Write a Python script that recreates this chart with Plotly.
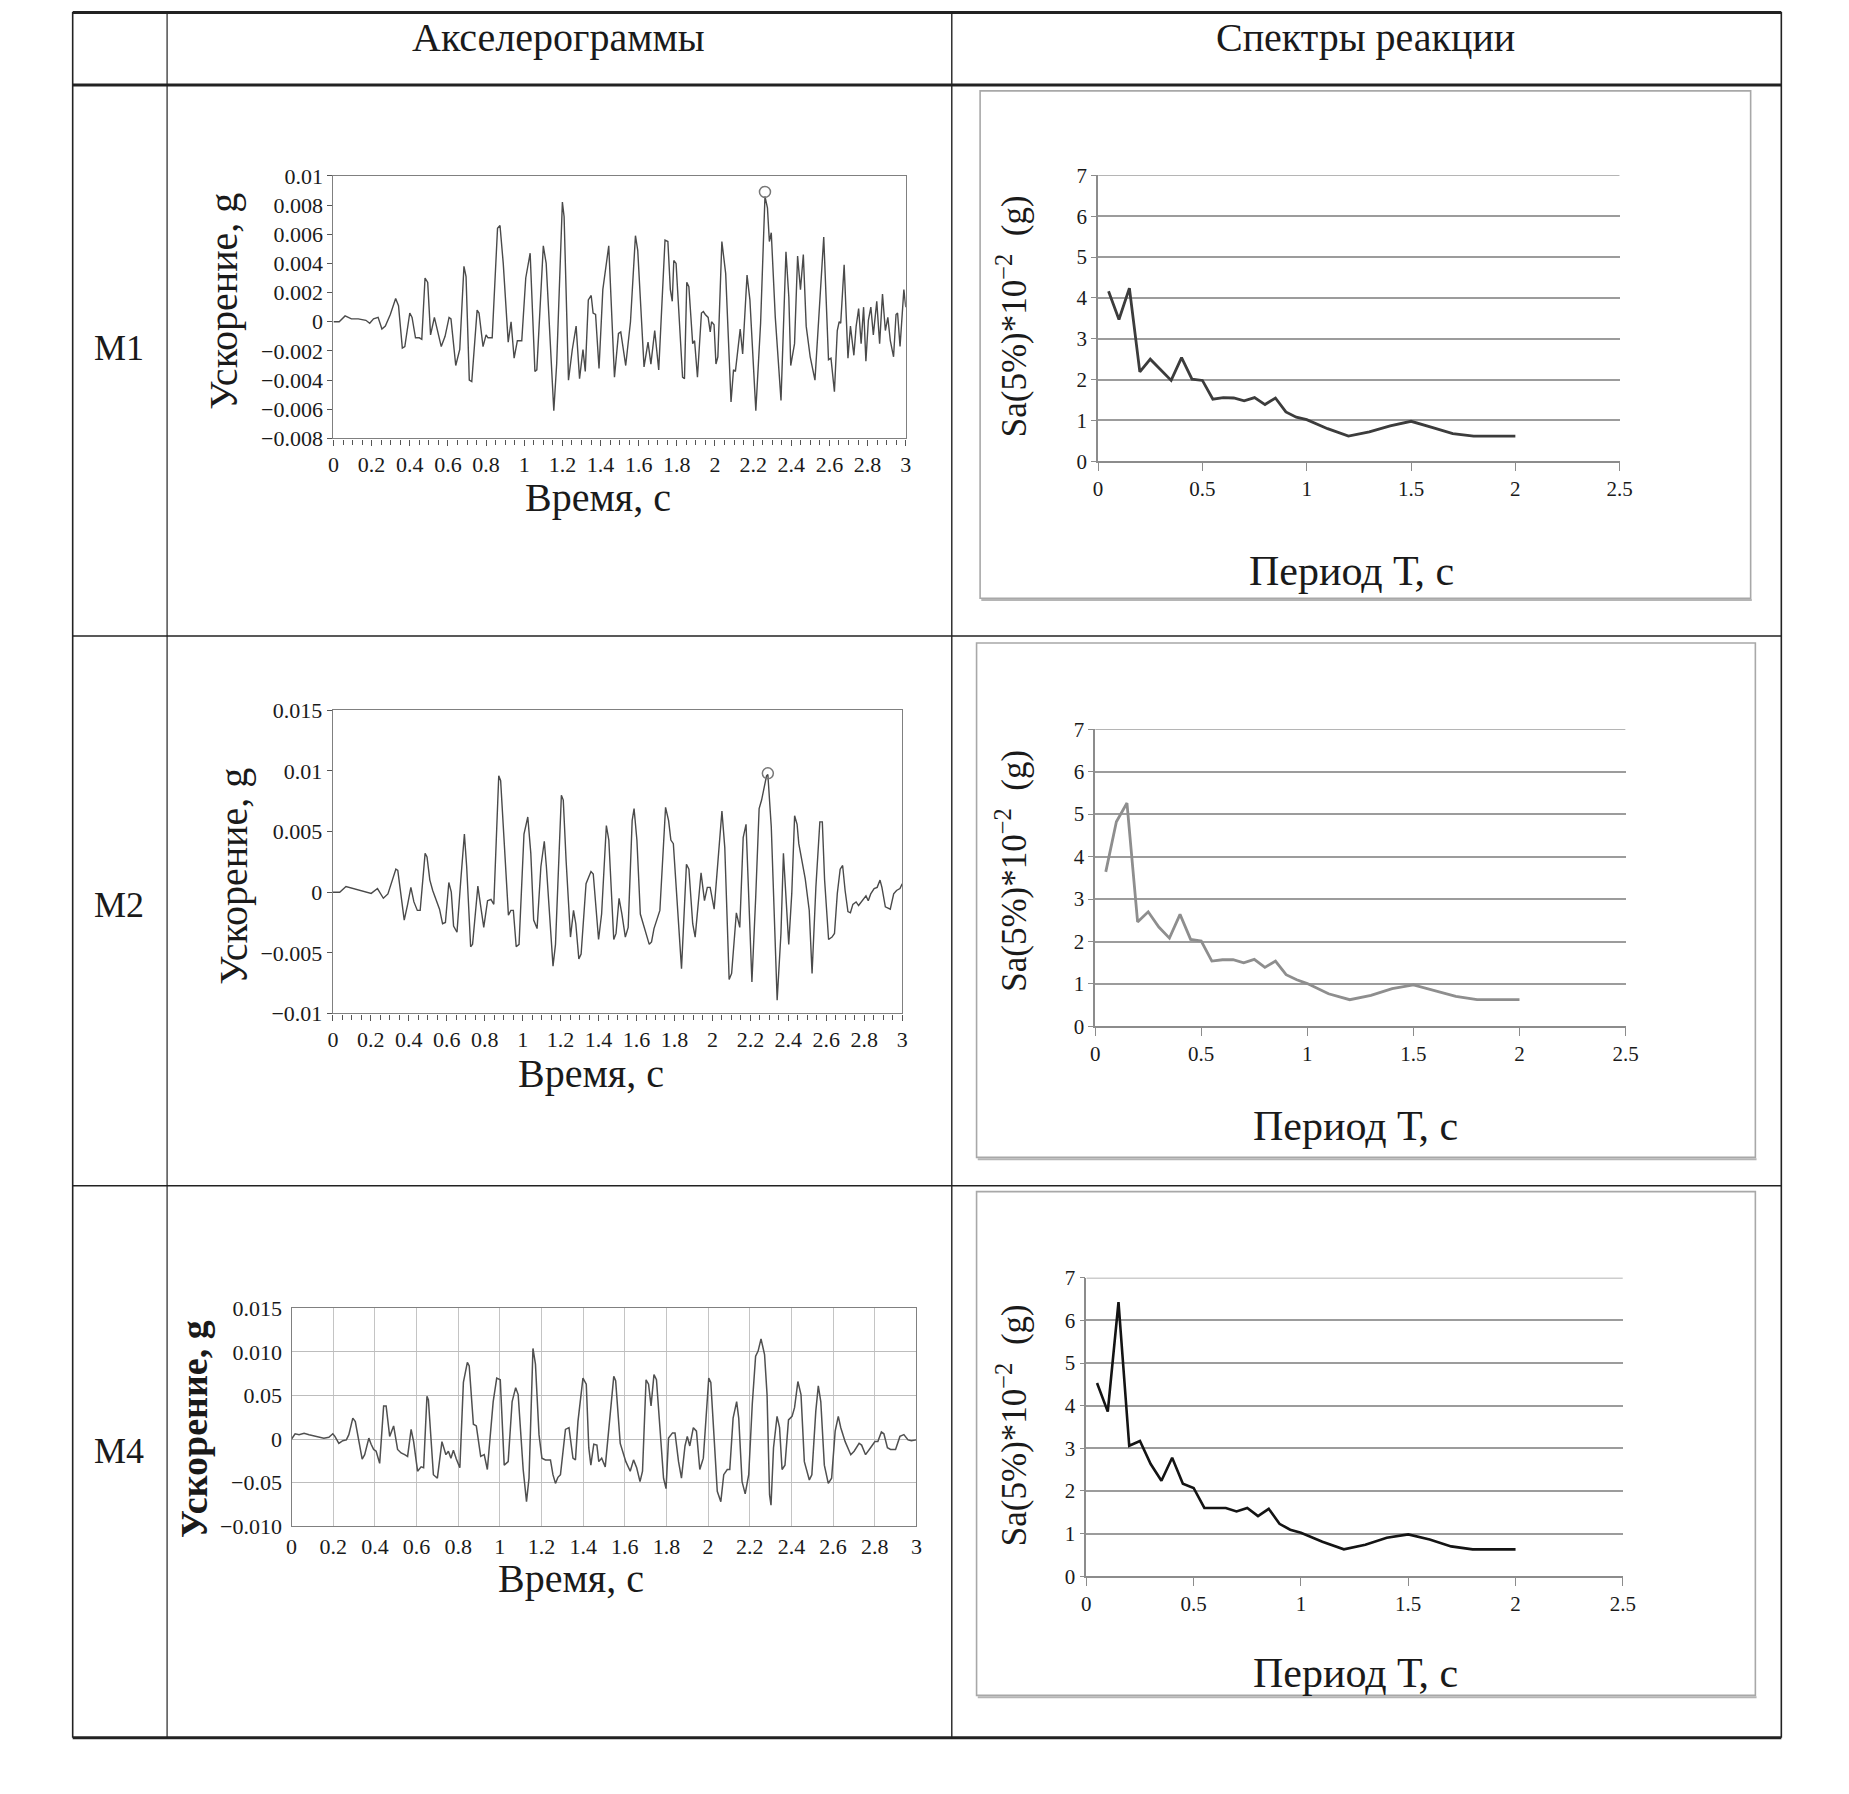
import plotly.graph_objects as go

# ---------------- DATA ----------------
row_labels = ["M1", "M2", "M4"]
header_labels = ["Акселерограммы", "Спектры реакции"]

m1_t = [0, 0.03, 0.061, 0.094, 0.13, 0.17, 0.19, 0.21, 0.234, 0.254,
        0.272, 0.298, 0.326, 0.341, 0.361, 0.374, 0.40, 0.412, 0.43, 0.45,
        0.463, 0.48, 0.494, 0.509, 0.529, 0.547, 0.565, 0.585, 0.606, 0.616,
        0.641, 0.662, 0.684, 0.695, 0.712, 0.725, 0.753, 0.763, 0.784, 0.80,
        0.81, 0.832, 0.86, 0.873, 0.89, 0.916, 0.931, 0.947, 0.964, 0.987,
        1.008, 1.031, 1.056, 1.066, 1.10, 1.115, 1.155, 1.17, 1.20, 1.209,
        1.232, 1.252, 1.272, 1.29, 1.308, 1.32, 1.336, 1.351, 1.361, 1.374,
        1.392, 1.412, 1.443, 1.473, 1.494, 1.506, 1.532, 1.557, 1.583, 1.595,
        1.628, 1.649, 1.664, 1.684, 1.705, 1.738, 1.753, 1.766, 1.776, 1.784,
        1.796, 1.83, 1.84, 1.852, 1.863, 1.883, 1.893, 1.908, 1.929, 1.939,
        1.949, 1.964, 1.975, 1.982, 1.995, 2.005, 2.015, 2.036, 2.056, 2.084,
        2.097, 2.107, 2.132, 2.145, 2.168, 2.183, 2.214, 2.239, 2.262, 2.275,
        2.285, 2.295, 2.316, 2.346, 2.372, 2.387, 2.397, 2.417, 2.433, 2.448,
        2.463, 2.478, 2.499, 2.524, 2.545, 2.57, 2.595, 2.608, 2.626, 2.641,
        2.651, 2.659, 2.677, 2.697, 2.71, 2.728, 2.74, 2.753, 2.766, 2.779,
        2.791, 2.804, 2.817, 2.83, 2.848, 2.863, 2.878, 2.893, 2.906, 2.919,
        2.936, 2.949, 2.957, 2.97, 2.99, 3.0]
m1_a = [0, 0, 0.0004, 0.0002, 0.0002, 0.0001, -0.0001, 0.0002, 0.0003, -0.0005,
        -0.0003, 0.0005, 0.0016, 0.0011, -0.0018, -0.0017, 0.0006, 0.0003, -0.0011, -0.0011,
        -0.0012, 0.003, 0.0027, -0.0009, 0.0003, -0.0006, -0.0017, -0.001, 0.0003, 0.0002,
        -0.003, -0.0019, 0.0038, 0.0031, -0.004, -0.0041, 0.0008, 0.0006, -0.0017, -0.0009,
        -0.0011, -0.0011, 0.0064, 0.0066, 0.004, -0.0014, 0.0, -0.0025, -0.0013, -0.0013,
        0.003, 0.0047, -0.0034, -0.0033, 0.0052, 0.004, -0.0061, -0.0029, 0.0082, 0.0072,
        -0.004, -0.0019, -0.0003, -0.0039, -0.0019, -0.0034, 0.0015, 0.0018, 0.0006, 0.0005,
        -0.0032, 0.0022, 0.0052, -0.0038, -0.0008, -0.0007, -0.003, 0.0, 0.0059, 0.0049,
        -0.0031, -0.0014, -0.0029, -0.0006, -0.0033, 0.0056, 0.0055, 0.0022, 0.0014, 0.0042,
        0.004, -0.0038, -0.0039, 0.0027, 0.0024, -0.0015, -0.0013, -0.0038, 0.0006, 0.0007,
        0.0005, 0.0003, -0.0007, 0.0, -0.0002, -0.0029, -0.0024, 0.0055, 0.0033, -0.0055,
        -0.0033, -0.0034, -0.0005, -0.0022, 0.0032, 0.0015, -0.0061, -0.0001, 0.0086, 0.0078,
        0.0055, 0.0061, 0.0003, -0.0054, 0.0048, 0.0017, -0.003, -0.0015, 0.0045, 0.0022,
        0.0046, -0.0003, -0.0024, -0.004, 0.0008, 0.0058, -0.0026, -0.0025, -0.0048, -0.0006,
        0.0, -0.0001, 0.0039, -0.0025, -0.0003, -0.0023, -0.0003, 0.0009, -0.0015, 0.001,
        -0.0027, 0.0001, 0.001, -0.0009, 0.0014, -0.0015, 0.0019, -0.0006, 0.0003, -0.0013,
        -0.0024, 0.0005, 0.0006, -0.0017, 0.0022, 0.001]

m2_t = [0, 0.036, 0.069, 0.112, 0.164, 0.202, 0.235, 0.266, 0.29, 0.332,
        0.342, 0.376, 0.394, 0.411, 0.427, 0.445, 0.46, 0.486, 0.496, 0.511,
        0.526, 0.547, 0.562, 0.578, 0.593, 0.611, 0.624, 0.636, 0.654, 0.675,
        0.693, 0.705, 0.726, 0.736, 0.764, 0.782, 0.795, 0.815, 0.833, 0.848,
        0.874, 0.884, 0.905, 0.925, 0.938, 0.951, 0.966, 0.981, 1.007, 1.027,
        1.043, 1.058, 1.076, 1.096, 1.114, 1.125, 1.16, 1.173, 1.204, 1.214,
        1.229, 1.252, 1.268, 1.28, 1.296, 1.308, 1.334, 1.36, 1.372, 1.40,
        1.416, 1.441, 1.454, 1.48, 1.492, 1.508, 1.523, 1.541, 1.556, 1.577,
        1.587, 1.602, 1.62, 1.641, 1.667, 1.679, 1.692, 1.723, 1.753, 1.769,
        1.781, 1.794, 1.82, 1.837, 1.863, 1.876, 1.896, 1.909, 1.94, 1.958,
        1.973, 1.988, 2.009, 2.029, 2.05, 2.065, 2.088, 2.101, 2.126, 2.144,
        2.162, 2.177, 2.208, 2.228, 2.246, 2.259, 2.285, 2.292, 2.31, 2.341,
        2.361, 2.374, 2.392, 2.402, 2.418, 2.433, 2.446, 2.455, 2.489, 2.51,
        2.525, 2.545, 2.566, 2.579, 2.591, 2.612, 2.63, 2.643, 2.658, 2.673,
        2.686, 2.699, 2.714, 2.727, 2.74, 2.757, 2.77, 2.783, 2.796, 2.809,
        2.821, 2.834, 2.852, 2.868, 2.883, 2.893, 2.911, 2.937, 2.955, 2.97,
        2.988, 3.0]
m2_a = [0, 0, 0.00047, 0.00028, 0.0001, -0.0001, 0.0003, -0.0005, -0.00014, 0.0019,
        0.0018, -0.0023, -0.001, 0.0004, -0.0008, -0.0015, -0.0015, 0.0032, 0.0029, 0.001,
        0.00014, -0.0008, -0.0014, -0.0026, -0.0025, 0.0008, 0, -0.0028, -0.0033, 0.0012,
        0.0048, 0.0021, -0.0045, -0.0043, 0.0005, -0.0015, -0.0029, -0.0007, -0.0006, -0.001,
        0.0096, 0.0092, 0.0037, -0.0019, -0.0015, -0.0015, -0.0045, -0.0043, 0.0048, 0.0062,
        0.0032, -0.0023, -0.003, 0.0021, 0.0042, 0.0021, -0.0061, -0.0043, 0.008, 0.0076,
        0.0026, -0.0037, -0.0015, -0.0026, -0.0055, -0.0051, 0.0007, 0.0017, 0.0015, -0.0039,
        -0.0018, 0.0055, 0.0043, -0.0039, -0.0034, -0.0005, -0.0018, -0.0037, -0.0029, 0.0059,
        0.0069, 0.0043, -0.0018, -0.0029, -0.0043, -0.0041, -0.003, -0.0015, 0.007, 0.0059,
        0.0043, 0.004, -0.0018, -0.0063, 0.0023, 0.0019, -0.0026, -0.0037, 0.0016, -0.0007,
        0.0004, 0.0004, -0.0014, 0.0022, 0.0067, 0.0037, -0.0072, -0.0067, -0.0017, -0.0029,
        0.0045, 0.0056, -0.0074, -0.0004, 0.0069, 0.0076, 0.0096, 0.0097, 0.0054, -0.0089,
        -0.0034, 0.0032, -0.0015, -0.0043, -0.0001, 0.0063, 0.0056, 0.004, 0.0011, -0.0015,
        -0.0067, 0.0004, 0.0058, 0.0058, 0.001, -0.0039, -0.0037, -0.0034, -0.0001, 0.0019,
        0.0022, 0.00014, -0.0016, -0.0017, -0.001, -0.0008, -0.0011, -0.0008, -0.0006, -0.0003,
        -0.0007, -0.00014, 0.0003, 0.0004, 0.001, 0.0004, -0.0012, -0.0014, -0.00014, 0.00014,
        0.0003, 0.0007]

m4_t = [0, 0.017, 0.036, 0.06, 0.084, 0.12, 0.155, 0.179, 0.198, 0.208,
        0.227, 0.246, 0.263, 0.275, 0.294, 0.306, 0.323, 0.339, 0.351, 0.371,
        0.382, 0.394, 0.406, 0.423, 0.442, 0.454, 0.471, 0.49, 0.509, 0.526,
        0.543, 0.557, 0.574, 0.586, 0.605, 0.622, 0.634, 0.65, 0.657, 0.681,
        0.70, 0.722, 0.741, 0.753, 0.765, 0.777, 0.791, 0.808, 0.825, 0.844,
        0.853, 0.873, 0.887, 0.908, 0.925, 0.94, 0.968, 0.985, 1.002, 1.021,
        1.04, 1.059, 1.076, 1.088, 1.112, 1.128, 1.14, 1.159, 1.171, 1.188,
        1.202, 1.219, 1.243, 1.255, 1.267, 1.279, 1.291, 1.315, 1.332, 1.351,
        1.363, 1.375, 1.399, 1.415, 1.427, 1.437, 1.451, 1.466, 1.475, 1.489,
        1.506, 1.53, 1.547, 1.556, 1.578, 1.605, 1.626, 1.642, 1.657, 1.673,
        1.685, 1.702, 1.714, 1.726, 1.74, 1.752, 1.769, 1.786, 1.798, 1.81,
        1.829, 1.841, 1.858, 1.872, 1.889, 1.90, 1.912, 1.929, 1.944, 1.96,
        1.977, 2.003, 2.013, 2.032, 2.044, 2.061, 2.075, 2.092, 2.104, 2.12,
        2.137, 2.147, 2.163, 2.178, 2.195, 2.212, 2.228, 2.24, 2.254, 2.271,
        2.283, 2.295, 2.302, 2.314, 2.331, 2.343, 2.355, 2.369, 2.386, 2.403,
        2.415, 2.431, 2.446, 2.462, 2.486, 2.498, 2.517, 2.529, 2.541, 2.558,
        2.577, 2.593, 2.61, 2.625, 2.637, 2.658, 2.685, 2.701, 2.725, 2.737,
        2.756, 2.78, 2.801, 2.815, 2.832, 2.844, 2.861, 2.876, 2.9, 2.921,
        2.94, 2.96, 2.976, 3.0]
m4_a = [0, 0.0006, 0.0005, 0.00065, 0.0005, 0.0003, 0.0001, 0.0002, 0.0006, 0.0003,
        -0.0005, -0.0002, -0.0001, 0.0005, 0.0024, 0.002, -0.0003, -0.0023, -0.0018, 0.0001,
        -0.0006, -0.0012, -0.0014, -0.0028, 0.0038, 0.0038, 0.0003, 0.0015, -0.0012, -0.0016,
        -0.0018, -0.002, 0.0011, -0.0003, -0.0037, -0.0032, -0.0033, 0.0049, 0.0045, -0.0041,
        -0.0045, -0.0003, -0.0018, -0.0014, -0.0022, -0.0013, -0.0023, -0.0033, 0.0065, 0.0088,
        0.0084, 0.0017, 0.0015, -0.002, -0.0018, -0.0035, 0.0043, 0.007, 0.0068, -0.003,
        -0.0026, 0.0043, 0.0059, 0.0051, -0.0035, -0.0072, -0.0045, 0.0104, 0.0086, 0.0005,
        -0.0022, -0.0024, -0.0024, -0.0041, -0.0051, -0.0044, -0.0041, 0.0011, 0.0013, -0.0022,
        -0.0024, 0.002, 0.007, 0.0063, -0.001, -0.003, -0.0006, -0.0007, -0.0026, -0.0022,
        -0.0032, 0.0028, 0.0072, 0.0067, -0.0005, -0.0026, -0.0037, -0.0024, -0.0033, -0.0049,
        -0.0037, 0.0068, 0.0063, 0.0038, 0.0074, 0.0068, 0.0005, -0.0045, -0.0057, 0.0001,
        0.0007, 0.0007, -0.0026, -0.0045, -0.0008, 0.0003, -0.0008, 0.0013, 0.0009, -0.0035,
        -0.0022, 0.007, 0.0065, -0.001, -0.006, -0.0072, -0.0041, -0.0035, -0.0035, 0.0024,
        0.0043, 0.0024, -0.0049, -0.0063, -0.0041, 0.004, 0.0095, 0.0101, 0.0115, 0.0097,
        0.0051, -0.0064, -0.0076, -0.001, 0.0026, 0.0013, -0.0035, -0.003, 0.0022, 0.0026,
        0.0036, 0.0066, 0.0051, -0.0026, -0.0047, -0.0041, 0.0032, 0.0061, 0.0043, -0.003,
        -0.0051, -0.0045, 0.0009, 0.0026, 0.0013, -0.0003, -0.0018, -0.0014, -0.0005, -0.0007,
        -0.0018, -0.001, -0.0003, -0.0003, 0.0008, 0.0006, -0.001, -0.0012, -0.0012, 0.0003,
        0.0005, -0.0001, -0.0002, -0.0001]

peak_t = [2.262, 2.292]      # circled peaks (M1, M2)
peak_a = [0.0089, 0.0098]

m4_ytickvals = [-0.01, -0.005, 0, 0.005, 0.01, 0.015]
m4_yticktext = ["−0.010", "−0.05", "0", "0.05", "0.010", "0.015"]

period = [0.05, 0.1, 0.15, 0.2, 0.25, 0.3, 0.35, 0.4, 0.45, 0.5,
          0.55, 0.6, 0.65, 0.7, 0.75, 0.8, 0.85, 0.9, 0.95, 1.0,
          1.1, 1.2, 1.3, 1.4, 1.5, 1.6, 1.7, 1.8, 1.9, 2.0]
sa_m1 = [4.16, 3.47, 4.24, 2.19, 2.50, 2.23, 1.98, 2.54, 2.01, 1.98,
         1.52, 1.56, 1.55, 1.48, 1.56, 1.39, 1.55, 1.21, 1.08, 1.02,
         0.80, 0.62, 0.72, 0.87, 0.98, 0.83, 0.68, 0.62, 0.62, 0.62]
sa_m2 = [3.64, 4.82, 5.26, 2.46, 2.70, 2.34, 2.08, 2.64, 2.05, 2.01,
         1.54, 1.57, 1.57, 1.50, 1.58, 1.39, 1.54, 1.22, 1.10, 1.01,
         0.77, 0.63, 0.73, 0.89, 0.98, 0.85, 0.71, 0.63, 0.63, 0.63]
sa_m4 = [4.53, 3.86, 6.43, 3.06, 3.17, 2.63, 2.24, 2.78, 2.17, 2.07,
         1.60, 1.60, 1.60, 1.52, 1.60, 1.41, 1.58, 1.23, 1.09, 1.02,
         0.81, 0.63, 0.74, 0.90, 0.98, 0.86, 0.70, 0.63, 0.63, 0.63]
sa_top = 7

# ---------------- LAYOUT HELPERS ----------------
W, H = 1849, 1794
RW, RH = 1568.0, 1521.4  # reference measuring grid
# empirical correction of the photographed page (scale / offset)
KX, BX = 0.9896, 4.64
KY, BY = 0.9856, 10.1


def fx(x):
    return ((x - BX) / KX) / RW


def fy(y):
    return 1 - ((y - BY) / KY) / RH


FONT = "Liberation Serif"
TXT = "#1a1a1a"

fig = go.Figure()

# accelerograms
fig.add_trace(go.Scatter(x=m1_t, y=m1_a, mode="lines", line=dict(color="#4a4a4a", width=1.4),
                         xaxis="x", yaxis="y", showlegend=False, hoverinfo="skip"))
fig.add_trace(go.Scatter(x=[peak_t[0]], y=[peak_a[0]], mode="markers",
                         marker=dict(symbol="circle-open", size=11, color="#777", line=dict(width=1.5)),
                         xaxis="x", yaxis="y", showlegend=False))
fig.add_trace(go.Scatter(x=m2_t, y=m2_a, mode="lines", line=dict(color="#4a4a4a", width=1.4),
                         xaxis="x2", yaxis="y2", showlegend=False, hoverinfo="skip"))
fig.add_trace(go.Scatter(x=[peak_t[1]], y=[peak_a[1]], mode="markers",
                         marker=dict(symbol="circle-open", size=11, color="#777", line=dict(width=1.5)),
                         xaxis="x2", yaxis="y2", showlegend=False))
fig.add_trace(go.Scatter(x=m4_t, y=m4_a, mode="lines", line=dict(color="#505050", width=1.5),
                         xaxis="x3", yaxis="y3", showlegend=False, hoverinfo="skip"))
# spectra
fig.add_trace(go.Scatter(x=period, y=sa_m1, mode="lines", line=dict(color="#3c3c3c", width=2.8),
                         xaxis="x4", yaxis="y4", showlegend=False))
fig.add_trace(go.Scatter(x=period, y=sa_m2, mode="lines", line=dict(color="#8e8e8e", width=2.8),
                         xaxis="x5", yaxis="y5", showlegend=False))
fig.add_trace(go.Scatter(x=period, y=sa_m4, mode="lines", line=dict(color="#141414", width=2.6),
                         xaxis="x6", yaxis="y6", showlegend=False))

tick_font = dict(family=FONT, size=22, color=TXT)


def acc_x(dom, anchor, grid=False):
    d = dict(domain=dom, anchor=anchor, range=[0, 3], tick0=0, dtick=0.2,
             showline=True, linecolor="#808080", linewidth=1.3, mirror=True,
             zeroline=False, tickfont=tick_font, ticklen=6, tickcolor="#555")
    if grid:
        d.update(showgrid=True, gridcolor="#c4c4c4", gridwidth=1, ticks="")
    else:
        d.update(showgrid=False, ticks="outside",
                 minor=dict(dtick=0.05, tick0=0, ticks="outside", ticklen=5, tickcolor="#555"))
    return d


def acc_y(dom, anchor, rng, dtick, grid=False):
    d = dict(domain=dom, anchor=anchor, range=rng, dtick=dtick, tick0=0,
             showline=True, linecolor="#808080", linewidth=1.3, mirror=True,
             zeroline=False, tickfont=tick_font, ticks="outside", ticklen=5, tickcolor="#555")
    if grid:
        d.update(showgrid=True, gridcolor="#bdbdbd", gridwidth=1, ticks="", ticklabelstandoff=4)
    else:
        d.update(showgrid=False)
    return d


spec_tick_font = dict(family=FONT, size=21, color=TXT)


def spec_x(dom, anchor):
    return dict(domain=dom, anchor=anchor, range=[0, 2.5], dtick=0.5, tick0=0,
                showline=True, linecolor="#8c8c8c", linewidth=1.6, showgrid=False,
                zeroline=False, ticks="outside", ticklen=8, tickcolor="#8c8c8c",
                tickfont=spec_tick_font)


def spec_y(dom, anchor):
    return dict(domain=dom, anchor=anchor, range=[0, sa_top], dtick=1, tick0=0,
                showline=True, linecolor="#8c8c8c", linewidth=1.6, showgrid=True,
                gridcolor="#9c9c9c", gridwidth=1.6, zeroline=False, ticks="outside",
                ticklen=5, tickcolor="#8c8c8c", tickfont=spec_tick_font)


layout_axes = dict(
    xaxis=acc_x([fx(283), fx(768)], "y"),
    yaxis=acc_y([fy(371.6), fy(149)], "x", [-0.008, 0.01], 0.002),
    xaxis2=acc_x([fx(282.5), fx(765)], "y2"),
    yaxis2=acc_y([fy(859), fy(602)], "x2", [-0.01, 0.015], 0.005),
    xaxis3=acc_x([fx(247.5), fx(777)], "y3", grid=True),
    yaxis3=acc_y([fy(1293.5), fy(1109)], "x3", [-0.01, 0.015], None, grid=True),
    xaxis4=spec_x([fx(931), fx(1373)], "y4"),
    yaxis4=spec_y([fy(391), fy(148.5)], "x4"),
    xaxis5=spec_x([fx(928.5), fx(1378)], "y5"),
    yaxis5=spec_y([fy(870), fy(618)], "x5"),
    xaxis6=spec_x([fx(921), fx(1375.7)], "y6"),
    yaxis6=spec_y([fy(1336), fy(1083)], "x6"),
)
layout_axes["yaxis3"].update(tickvals=m4_ytickvals, ticktext=m4_yticktext)
layout_axes["yaxis3"].pop("dtick")

# ---------------- ANNOTATIONS ----------------
ann = []


def text(x, y, s, size, angle=0, bold=False):
    ann.append(dict(x=fx(x), y=fy(y), xref="paper", yref="paper", text=("<b>%s</b>" % s) if bold else s,
                    showarrow=False, textangle=angle, xanchor="center", yanchor="middle",
                    font=dict(family=FONT, size=size, color=TXT)))


text(474, 32, header_labels[0], 40)
text(1158, 32, header_labels[1], 40)
for lab, yy in zip(row_labels, [295, 767, 1230]):
    text(101, yy, lab, 36)

acc_title = "Ускорение, g"
time_title = "Время, с"
per_title = "Период Т, с"
sa_title = "Sa(5%)*10<sup>−2</sup>  (g)"

text(190, 255, acc_title, 40, -90)
text(507, 422, time_title, 40)
text(198, 743, acc_title, 40, -90)
text(501, 910, time_title, 40)
text(165, 1211, acc_title, 38, -90, bold=True)
text(484, 1338, time_title, 40)

text(858, 268, sa_title, 35, -90)
text(1146, 484, per_title, 42)
text(858, 738, sa_title, 35, -90)
text(1149, 954, per_title, 42)
text(858, 1208, sa_title, 35, -90)
text(1149, 1418, per_title, 42)

# ---------------- TABLE / FRAME SHAPES ----------------
shapes = []


def hline(y, x0, x1, w, c="#222"):
    shapes.append(dict(type="line", xref="paper", yref="paper", x0=fx(x0), x1=fx(x1),
                       y0=fy(y), y1=fy(y), line=dict(color=c, width=w)))


def vline(x, y0, y1, w, c="#222"):
    shapes.append(dict(type="line", xref="paper", yref="paper", x0=fx(x), x1=fx(x),
                       y0=fy(y0), y1=fy(y1), line=dict(color=c, width=w)))


hline(10.5, 62, 1510, 3.0)
hline(72, 62, 1510, 3.0)
hline(539, 62, 1510, 1.4)
hline(1005, 62, 1510, 1.4)
hline(1473, 62, 1510, 3.0)
vline(62, 10, 1473, 1.6)
vline(1510, 10, 1473, 1.6)
vline(142, 10, 1473, 1.2)
vline(807, 10, 1473, 1.4)

for (x0, y0, x1, y1) in [(831, 77, 1484, 507), (828, 545, 1488, 981), (828, 1010, 1488, 1437)]:
    shapes.append(dict(type="rect", xref="paper", yref="paper", x0=fx(x0), x1=fx(x1),
                       y0=fy(y1), y1=fy(y0), line=dict(color="#a8a8a8", width=1.6)))
    hline(y1 + 1.5, x0 + 1, x1 + 1, 2.0, "#b5b5b5")

# top gridline (value 7) of each spectrum, which plotly leaves out at the range edge
for k in ("4", "5", "6"):
    shapes.append(dict(type="line", xref="x" + k, yref="y" + k, x0=0, x1=2.5, y0=sa_top, y1=sa_top,
                       line=dict(color="#9c9c9c", width=1.6), layer="below"))

fig.update_layout(
    width=W, height=H, margin=dict(l=0, r=0, t=0, b=0),
    paper_bgcolor="white", plot_bgcolor="white",
    annotations=ann, shapes=shapes, showlegend=False,
    **layout_axes,
)

fig.write_html("out.html",
               config={"responsive": False, "displayModeBar": False},
               post_script="document.body.style.margin='0';")
